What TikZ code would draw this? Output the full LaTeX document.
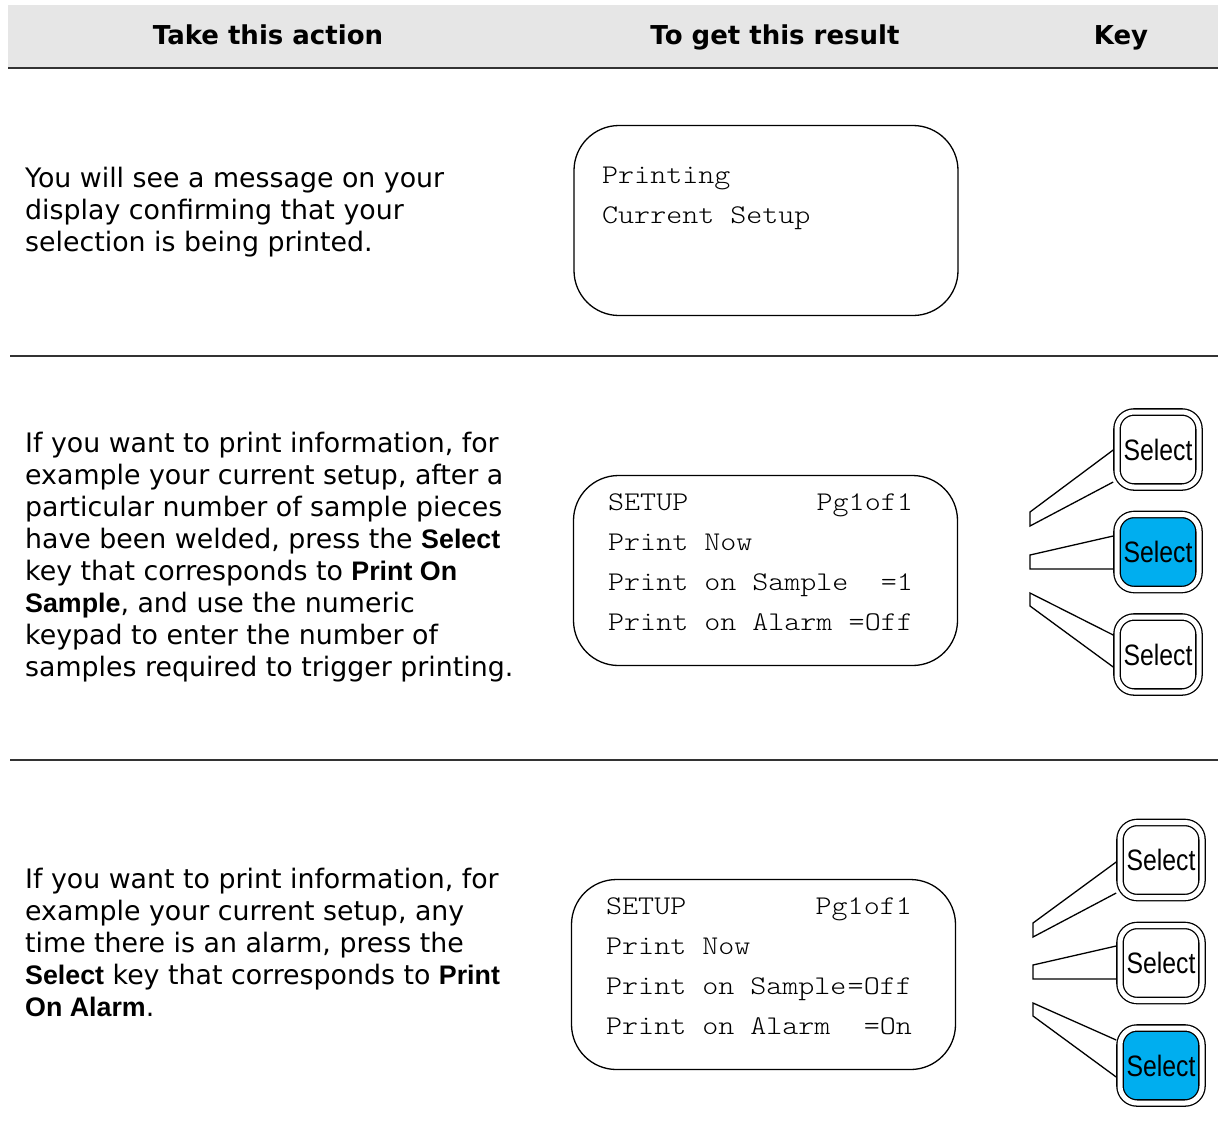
\documentclass[tikz,border=0pt]{standalone}
\usepackage{fontspec}
\setmainfont{DejaVu Sans}
\newfontfamily\arialfont{Liberation Sans}
\newfontfamily\lcdfont{Latin Modern Mono Light}[FakeStretch=1.13]
\usetikzlibrary{positioning,calc}
\definecolor{HeadGray}{RGB}{230,230,230}
\definecolor{KeyBlue}{RGB}{0,174,239}
\newcommand{\kw}[1]{{\arialfont\bfseries #1}}
\tikzset{
  action/.style={anchor=north west,inner sep=0pt,align=left,
    font=\fontsize{26.8}{32}\selectfont},
  head/.style={anchor=base,inner sep=0pt,font=\bfseries\fontsize{26}{30}\selectfont},
  screen/.style={draw=black,line width=1.3pt,rounded corners=45pt,
    minimum width=384pt,minimum height=190pt,inner sep=0pt},
  lcd/.style={anchor=base west,inner sep=0pt,font=\lcdfont\fontsize{27}{32}\selectfont},
  lcdr/.style={lcd,anchor=base east},
  key/.style={draw=black,line width=1.3pt,double=white,double distance=5pt,
    rounded corners=17pt,minimum width=82pt,minimum height=75pt,inner sep=0pt,
    outer sep=3.8pt,font=\arialfont\fontsize{29.5}{29.5}\selectfont},
  keyon/.style={key,fill=KeyBlue},
  lead/.style={draw=black,line width=1.3pt,line join=miter},
  rule/.style={draw=black!80,line width=1.5pt},
}

\begin{document}
\begin{tikzpicture}[x=1pt,y=-1pt]
\useasboundingbox (0,0) rectangle (1220,1128);
% header
\fill[HeadGray] (8,5) rectangle (1218,68);
\draw[black!80,line width=2.5pt] (8,68) -- (1218,68);
\node[head] (hAction) at (268,44.5) {Take this action};
\node[head] (hResult) at (775,44.5) {To get this result};
\node[head] (hKey) at (1121,44.5) {Key};

% row 1
\node[action] (act1) at (25,167) {You will see a message on your\\
  display confirming that your\\
  selection is being printed.};
\node[screen] (scr1) at (766,220.5) {};
\node[lcd] (scr1a) at (602,183) {Printing};
\node[lcd] (scr1b) at (602,223) {Current Setup};
\draw[rule] (10,356) -- (1218,356);

% row 2
\node[action] (act2) at (25,432) {If you want to print information, for\\
  example your current setup, after a\\
  particular number of sample pieces\\
  have been welded, press the \kw{Select}\\
  key that corresponds to \kw{Print On}\\
  \kw{Sample}, and use the numeric\\
  keypad to enter the number of\\
  samples required to trigger printing.};
\node[screen] (scr2) at (765.5,570.5) {};
\node[lcd] (scr2a) at (608,510) {SETUP};
\node[lcdr] (scr2ar) at (913,510) {Pg1of1};
\node[lcd] (scr2b) at (608,550) {Print Now};
\node[lcd] (scr2c) at (608,590) {Print on Sample};
\node[lcdr] (scr2cr) at (913,590) {=1};
\node[lcd] (scr2d) at (608,630) {Print on Alarm};
\node[lcdr] (scr2dr) at (913,630) {=Off};

\coordinate (p21a) at (1030,512);
\coordinate (p21b) at (1030,526);
\coordinate (p22a) at (1030,555);
\coordinate (p22b) at (1030,569);
\coordinate (p23a) at (1030,593);
\coordinate (p23b) at (1030,606);
\node[key] (k21) at (1158,449.5) {\scalebox{0.84}[1]{Select}};
\node[keyon] (k22) at (1158,552) {\scalebox{0.84}[1]{Select}};
\node[key] (k23) at (1158,654.5) {\scalebox{0.84}[1]{Select}};
\draw[lead] ($(k21.west)+(0,0.5)$) -- (p21a) -- (p21b) -- ($(k21.west)+(0,32.5)$);
\draw[lead] ($(k22.west)+(0,-16)$) -- (p22a) -- (p22b) -- ($(k22.west)+(0,17)$);
\draw[lead] ($(k23.west)+(0,-19.5)$) -- (p23a) -- (p23b) -- ($(k23.west)+(0,12.5)$);
\draw[rule] (10,760) -- (1218,760);

% row 3
\node[action] (act3) at (25,868) {If you want to print information, for\\
  example your current setup, any\\
  time there is an alarm, press the\\
  \kw{Select} key that corresponds to \kw{Print}\\
  \kw{On Alarm}.};
\node[screen] (scr3) at (763.5,974.5) {};
\node[lcd] (scr3a) at (606,914) {SETUP};
\node[lcdr] (scr3ar) at (912,914) {Pg1of1};
\node[lcd] (scr3b) at (606,954) {Print Now};
\node[lcd] (scr3c) at (606,994) {Print on Sample};
\node[lcdr] (scr3cr) at (912,994) {=Off};
\node[lcd] (scr3d) at (606,1034) {Print on Alarm};
\node[lcdr] (scr3dr) at (912,1034) {=On};

\coordinate (p31a) at (1033,923);
\coordinate (p31b) at (1033,937);
\coordinate (p32a) at (1033,965);
\coordinate (p32b) at (1033,979);
\coordinate (p33a) at (1033,1003);
\coordinate (p33b) at (1033,1016);
\node[key] (k31) at (1161,860) {\scalebox{0.84}[1]{Select}};
\node[key] (k32) at (1161,963) {\scalebox{0.84}[1]{Select}};
\node[keyon] (k33) at (1161,1065.5) {\scalebox{0.84}[1]{Select}};
\draw[lead] ($(k31.west)+(0,2)$) -- (p31a) -- (p31b) -- ($(k31.west)+(0,33)$);
\draw[lead] ($(k32.west)+(0,-17)$) -- (p32a) -- (p32b) -- ($(k32.west)+(0,16)$);
\draw[lead] ($(k33.west)+(0,-25.5)$) -- (p33a) -- (p33b) -- ($(k33.west)+(0,11.5)$);
\end{tikzpicture}
\end{document}
